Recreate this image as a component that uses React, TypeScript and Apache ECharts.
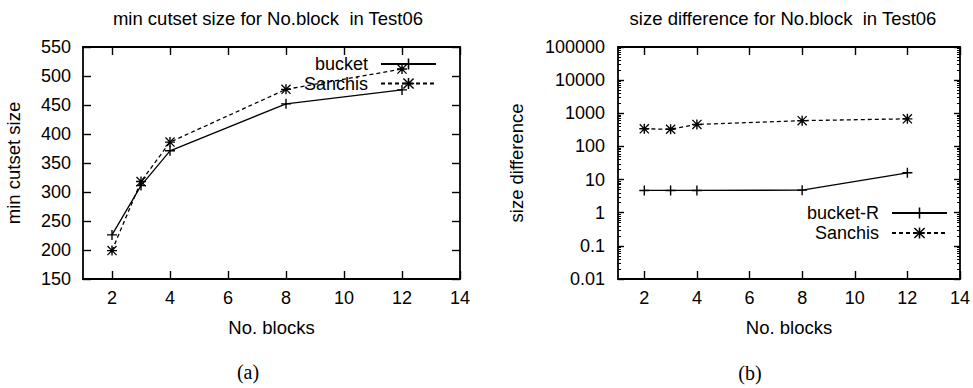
import React, { useEffect, useRef } from "react";
import * as echarts from "echarts";

// ---- data ----
const blocks = [2, 3, 4, 8, 12];
const bucketCutset = [226, 311, 371, 452, 476];
const sanchisCutset = [199, 318, 386, 477, 512];
const bucketRDiff = [4.7, 4.7, 4.7, 4.8, 16];
const sanchisDiff = [340, 330, 460, 600, 680];
const xTicks = [2, 4, 6, 8, 10, 12, 14];
const logDecades = [-2, -1, 0, 1, 2, 3, 4];
const logMinorMultipliers = [2, 3, 4, 5, 6, 7, 8, 9];

const titleA = "min cutset size for No.block  in Test06";
const titleB = "size difference for No.block  in Test06";
const xName = "No. blocks";
const yNameA = "min cutset size";
const yNameB = "size difference";

const FONT = "'Liberation Sans', Arial, Helvetica, sans-serif";
const INK = "#000";

const plusSym = "path://M4.3,0H5.7V10H4.3Z M0,4.3H10V5.7H0Z";
const starSym =
  "path://M4.3,0H5.7V10H4.3Z M0,4.3H10V5.7H0Z M0.9,0L10,9.1L9.1,10L0,0.9Z M9.1,0L10,0.9L0.9,10L0,9.1Z";

const minorLogPositions: number[] = [];
logDecades.forEach((d) =>
  logMinorMultipliers.forEach((k) => minorLogPositions.push(d + Math.log10(k)))
);

export default function App() {
  const ref = useRef<HTMLDivElement>(null);
  useEffect(() => {
    if (!ref.current) return;
    const chart = echarts.init(ref.current, undefined, { renderer: "svg" });

    const axisLine = { show: true, onZero: false, lineStyle: { color: INK, width: 1.8 } };
    const tickLabel = { fontSize: 18, color: INK, fontFamily: FONT };
    const tickStyle = { color: INK, width: 1.4 };

    const xBottom = (gridIndex: number) => ({
      type: "value",
      gridIndex,
      position: "bottom",
      min: 1,
      max: 14,
      axisLine,
      axisTick: { show: true, inside: true, length: 8, customValues: xTicks, lineStyle: tickStyle },
      axisLabel: { ...tickLabel, margin: 10, customValues: xTicks },
      splitLine: { show: false },
      name: xName,
      nameLocation: "middle",
      nameGap: 39,
      nameTextStyle: { fontSize: 18.5, color: INK, fontFamily: FONT },
    });
    const xTop = (gridIndex: number) => ({
      type: "value",
      gridIndex,
      position: "top",
      min: 1,
      max: 14,
      axisLine,
      axisTick: { show: true, inside: true, length: 8, customValues: xTicks, lineStyle: tickStyle },
      axisLabel: { show: false, customValues: xTicks },
      splitLine: { show: false },
    });

    const option: any = {
      animation: false,
      backgroundColor: "#fff",
      textStyle: { fontFamily: FONT, color: INK },
      grid: [
        { left: 83, top: 47, width: 377, height: 232 },
        { left: 618, top: 47, width: 342, height: 232 },
      ],
      xAxis: [xBottom(0), xTop(0), xBottom(1), xTop(1)],
      yAxis: [
        {
          type: "value",
          gridIndex: 0,
          position: "left",
          min: 150,
          max: 550,
          interval: 50,
          axisLine,
          axisTick: { show: true, inside: true, length: 8, lineStyle: tickStyle },
          axisLabel: { ...tickLabel, margin: 12 },
          splitLine: { show: false },
          name: yNameA,
          nameLocation: "middle",
          nameGap: 60,
          nameTextStyle: { fontSize: 18.5, color: INK, fontFamily: FONT },
        },
        {
          type: "value",
          gridIndex: 0,
          position: "right",
          min: 150,
          max: 550,
          interval: 50,
          axisLine,
          axisTick: { show: true, inside: true, length: 8, lineStyle: tickStyle },
          axisLabel: { show: false },
          splitLine: { show: false },
        },
        {
          type: "log",
          logBase: 10,
          gridIndex: 1,
          position: "left",
          min: 0.01,
          max: 100000,
          splitNumber: 7,
          axisLine,
          axisTick: { show: true, inside: true, length: 6, lineStyle: tickStyle },
          axisLabel: {
            ...tickLabel,
            margin: 13,
            formatter: (v: number) => String(Number(v.toPrecision(6))),
          },
          splitLine: { show: false },
          name: yNameB,
          nameLocation: "middle",
          nameGap: 92,
          nameTextStyle: { fontSize: 18.5, color: INK, fontFamily: FONT },
        },
        {
          type: "log",
          logBase: 10,
          gridIndex: 1,
          position: "right",
          min: 0.01,
          max: 100000,
          splitNumber: 7,
          axisLine,
          axisTick: { show: true, inside: true, length: 6, lineStyle: tickStyle },
          axisLabel: { show: false },
          splitLine: { show: false },
        },
        {
          type: "value",
          gridIndex: 1,
          position: "left",
          min: -2,
          max: 5,
          axisLine: { show: false, onZero: false },
          axisTick: { show: true, inside: true, length: 3, customValues: minorLogPositions, lineStyle: { color: INK, width: 1 } },
          axisLabel: { show: false },
          splitLine: { show: false },
        },
        {
          type: "value",
          gridIndex: 1,
          position: "right",
          min: -2,
          max: 5,
          axisLine: { show: false, onZero: false },
          axisTick: { show: true, inside: true, length: 3, customValues: minorLogPositions, lineStyle: { color: INK, width: 1 } },
          axisLabel: { show: false },
          splitLine: { show: false },
        },
      ],
      legend: [
        {
          data: ["bucket", "Sanchis"],
          orient: "vertical",
          align: "right",
          right: 536,
          top: 55,
          padding: 0,
          itemWidth: 55,
          itemHeight: 14,
          itemGap: 1.5,
          selectedMode: false,
          textStyle: { fontSize: 18, color: INK, fontFamily: FONT, padding: [0, 8, 0, 0] },
          formatter: (n: string) => n.trim(),
        },
        {
          data: ["bucket-R", "Sanchis "],
          orient: "vertical",
          align: "right",
          right: 25,
          top: 204,
          padding: 0,
          itemWidth: 55,
          itemHeight: 14,
          itemGap: 2,
          selectedMode: false,
          textStyle: { fontSize: 18, color: INK, fontFamily: FONT, padding: [0, 8, 0, 0] },
          formatter: (n: string) => n.trim(),
        },
      ],
      series: [
        {
          name: "bucket",
          type: "line",
          xAxisIndex: 0,
          yAxisIndex: 0,
          data: blocks.map((x, i) => [x, bucketCutset[i]]),
          symbol: plusSym,
          symbolSize: 10,
          itemStyle: { color: INK, borderWidth: 0 },
          lineStyle: { color: INK, width: 1.3, type: "solid" },
        },
        {
          name: "Sanchis",
          type: "line",
          xAxisIndex: 0,
          yAxisIndex: 0,
          data: blocks.map((x, i) => [x, sanchisCutset[i]]),
          symbol: starSym,
          symbolSize: 10,
          itemStyle: { color: INK, borderWidth: 0 },
          lineStyle: { color: INK, width: 1.3, type: [4, 3] },
        },
        {
          name: "bucket-R",
          type: "line",
          xAxisIndex: 2,
          yAxisIndex: 2,
          data: blocks.map((x, i) => [x, bucketRDiff[i]]),
          symbol: plusSym,
          symbolSize: 10,
          itemStyle: { color: INK, borderWidth: 0 },
          lineStyle: { color: INK, width: 1.3, type: "solid" },
        },
        {
          name: "Sanchis ",
          type: "line",
          xAxisIndex: 2,
          yAxisIndex: 2,
          data: blocks.map((x, i) => [x, sanchisDiff[i]]),
          symbol: starSym,
          symbolSize: 10,
          itemStyle: { color: INK, borderWidth: 0 },
          lineStyle: { color: INK, width: 1.3, type: [4, 3] },
        },
      ],
      graphic: [
        {
          type: "text",
          x: 268,
          y: 18.5,
          style: { text: titleA, font: `18.5px ${FONT}`, fill: INK, textAlign: "center", textVerticalAlign: "middle" },
        },
        {
          type: "text",
          x: 783,
          y: 18.5,
          style: { text: titleB, font: `18.5px ${FONT}`, fill: INK, textAlign: "center", textVerticalAlign: "middle" },
        },
        {
          type: "text",
          x: 248,
          y: 372,
          style: { text: "(a)", font: `20px 'Liberation Serif', 'Times New Roman', serif`, fill: INK, textAlign: "center", textVerticalAlign: "middle" },
        },
        {
          type: "text",
          x: 750,
          y: 373,
          style: { text: "(b)", font: `20px 'Liberation Serif', 'Times New Roman', serif`, fill: INK, textAlign: "center", textVerticalAlign: "middle" },
        },
      ],
    };

    chart.setOption(option);
    return () => chart.dispose();
  }, []);

  return <div ref={ref} style={{ width: 973, height: 388, position: "absolute", left: 0, top: 0 }} />;
}
